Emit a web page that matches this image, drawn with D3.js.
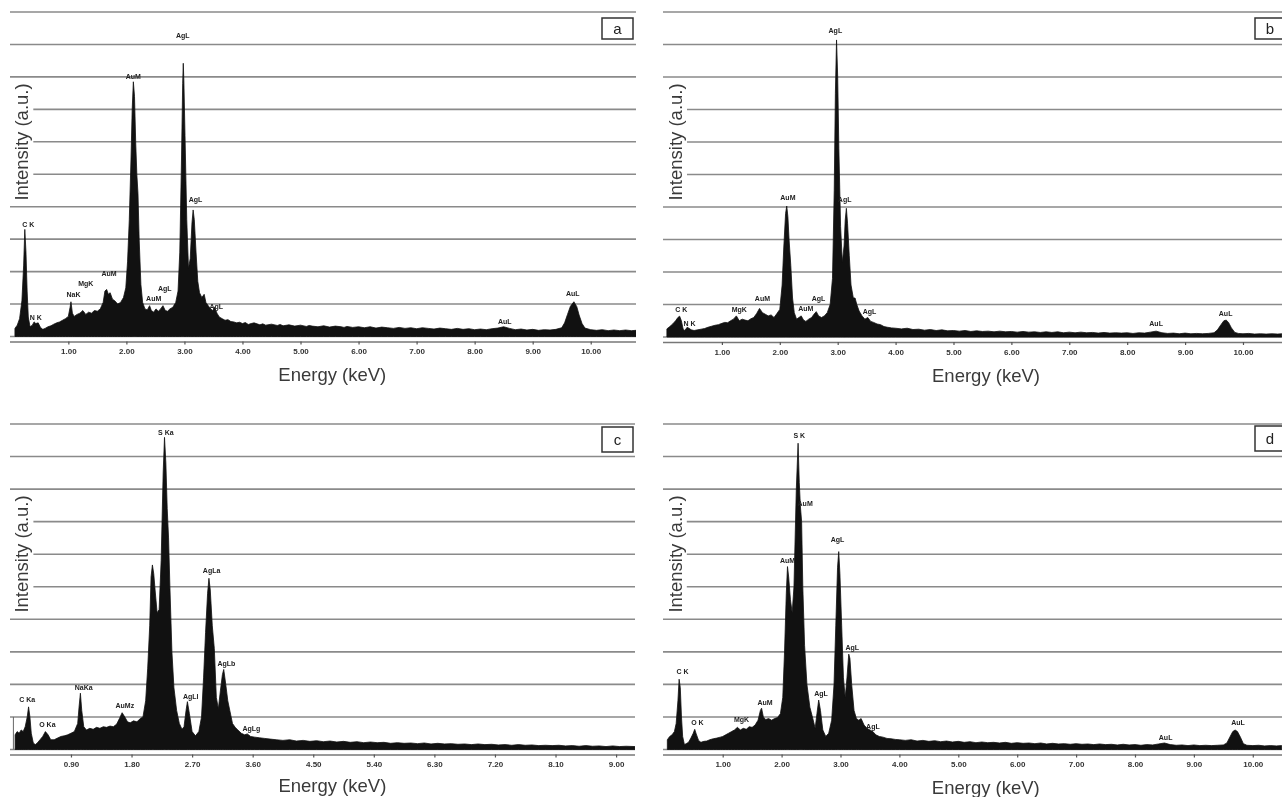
<!DOCTYPE html>
<html>
<head>
<meta charset="utf-8">
<script src="https://cdn.jsdelivr.net/npm/d3@7"></script>
<style>
  html, body { margin: 0; padding: 0; background: #fff; }
  svg { display: block; will-change: transform; }
</style>
</head>
<body>
<svg id="chart" width="1282" height="797"></svg>
<script>
// ---------------- DATA ----------------
// Spectra: [energy (keV), intensity (grid divisions, a.u.)]
const spectrumA = [
  [0.08,0.25],[0.12,0.35],[0.16,0.55],[0.20,1.1],[0.23,2.2],[0.25,3.3],[0.27,2.6],[0.29,1.4],[0.31,0.6],[0.34,0.3],
  [0.38,0.35],[0.41,0.45],[0.44,0.4],[0.48,0.42],[0.52,0.28],[0.56,0.22],[0.60,0.25],[0.65,0.3],[0.70,0.33],[0.75,0.38],
  [0.80,0.42],[0.85,0.45],[0.90,0.5],[0.95,0.55],[1.00,0.62],[1.03,0.9],[1.045,1.07],[1.07,0.72],[1.10,0.62],[1.15,0.68],
  [1.20,0.72],[1.25,0.8],[1.30,0.68],[1.35,0.75],[1.40,0.72],[1.45,0.8],[1.50,0.78],[1.55,0.85],[1.60,1.05],[1.63,1.4],
  [1.66,1.45],[1.69,1.3],[1.72,1.35],[1.76,1.15],[1.80,1.1],[1.85,1.0],[1.90,1.05],[1.95,1.2],[1.99,1.5],[2.02,2.3],
  [2.05,3.6],[2.08,5.5],[2.10,7.0],[2.12,7.85],[2.14,7.4],[2.16,6.0],[2.18,5.0],[2.20,4.4],[2.22,3.0],[2.25,1.6],
  [2.28,1.05],[2.32,0.85],[2.36,0.82],[2.40,0.95],[2.43,0.8],[2.47,0.75],[2.51,0.85],[2.55,0.78],[2.59,0.85],[2.63,0.95],
  [2.67,0.8],[2.71,0.78],[2.75,0.85],[2.80,0.9],[2.85,1.05],[2.89,1.4],[2.92,2.6],[2.95,5.5],[2.97,7.8],[2.98,8.42],
  [2.99,7.9],[3.01,6.2],[3.04,3.6],[3.07,2.1],[3.10,2.4],[3.13,3.5],[3.15,3.9],[3.17,3.6],[3.20,2.6],[3.23,1.7],
  [3.26,1.35],[3.30,1.2],[3.34,1.3],[3.37,1.05],[3.41,0.95],[3.45,0.85],[3.49,0.8],[3.52,0.9],[3.56,0.72],[3.60,0.6],
  [3.65,0.55],[3.70,0.5],[3.75,0.52],[3.80,0.46],[3.85,0.45],[3.90,0.42],[3.95,0.44],[4.00,0.4],[4.05,0.43],[4.10,0.37],
  [4.15,0.4],[4.20,0.42],[4.30,0.36],[4.35,0.39],[4.40,0.35],[4.50,0.38],[4.60,0.34],[4.65,0.37],[4.70,0.33],[4.80,0.36],
  [4.90,0.32],[5.00,0.35],[5.10,0.31],[5.15,0.34],[5.20,0.32],[5.30,0.3],[5.40,0.33],[5.50,0.29],[5.60,0.32],[5.70,0.3],
  [5.75,0.28],[5.80,0.31],[5.90,0.28],[6.00,0.3],[6.10,0.27],[6.20,0.3],[6.30,0.26],[6.40,0.29],[6.50,0.27],[6.60,0.25],
  [6.70,0.28],[6.80,0.25],[6.90,0.27],[7.00,0.24],[7.10,0.27],[7.20,0.25],[7.30,0.23],[7.40,0.26],[7.50,0.24],[7.60,0.22],
  [7.70,0.25],[7.80,0.22],[7.90,0.24],[8.00,0.21],[8.10,0.23],[8.20,0.21],[8.30,0.24],[8.40,0.26],[8.50,0.3],[8.60,0.25],
  [8.70,0.21],[8.80,0.23],[8.90,0.2],[9.00,0.22],[9.10,0.19],[9.20,0.21],[9.30,0.2],[9.40,0.22],[9.50,0.27],[9.55,0.42],
  [9.60,0.68],[9.65,0.93],[9.71,1.07],[9.76,0.92],[9.80,0.66],[9.85,0.4],[9.90,0.26],[10.00,0.21],[10.10,0.19],[10.20,0.21],
  [10.30,0.18],[10.40,0.2],[10.50,0.18],[10.60,0.2],[10.70,0.18],[10.78,0.19]
];
const spectrumB = [
  [0.05,0.25],[0.10,0.32],[0.15,0.4],[0.20,0.5],[0.24,0.6],[0.27,0.64],[0.30,0.5],[0.33,0.25],[0.36,0.2],[0.40,0.3],
  [0.43,0.27],[0.47,0.22],[0.52,0.2],[0.58,0.22],[0.64,0.24],[0.70,0.26],[0.76,0.3],[0.82,0.33],[0.88,0.36],[0.94,0.38],
  [1.00,0.42],[1.05,0.45],[1.10,0.44],[1.15,0.5],[1.20,0.55],[1.25,0.65],[1.30,0.5],[1.35,0.55],[1.40,0.52],[1.45,0.5],
  [1.50,0.56],[1.55,0.6],[1.60,0.72],[1.65,0.88],[1.70,0.75],[1.75,0.7],[1.80,0.65],[1.85,0.68],[1.90,0.6],[1.95,0.72],
  [2.00,0.85],[2.04,1.6],[2.07,2.8],[2.10,3.8],[2.12,4.03],[2.14,3.7],[2.16,3.0],[2.19,2.2],[2.22,1.2],[2.25,0.75],
  [2.29,0.55],[2.33,0.6],[2.37,0.65],[2.41,0.52],[2.45,0.48],[2.50,0.55],[2.55,0.6],[2.59,0.7],[2.63,0.78],[2.67,0.65],
  [2.72,0.6],[2.77,0.65],[2.82,0.75],[2.87,1.0],[2.91,1.8],[2.94,4.5],[2.96,7.5],[2.98,9.14],[3.00,8.0],[3.02,5.8],
  [3.05,3.4],[3.08,2.3],[3.11,2.8],[3.13,3.6],[3.15,3.96],[3.17,3.5],[3.20,2.5],[3.23,1.6],[3.27,1.2],[3.30,1.2],
  [3.33,1.0],[3.37,0.8],[3.42,0.65],[3.47,0.55],[3.52,0.6],[3.57,0.48],[3.62,0.45],[3.68,0.4],[3.74,0.38],[3.80,0.32],
  [3.86,0.3],[3.93,0.28],[4.00,0.27],[4.10,0.25],[4.20,0.27],[4.30,0.23],[4.40,0.24],[4.50,0.21],[4.60,0.23],[4.70,0.2],
  [4.80,0.22],[4.90,0.19],[5.00,0.2],[5.10,0.18],[5.20,0.2],[5.30,0.17],[5.40,0.19],[5.50,0.17],[5.60,0.18],[5.70,0.16],
  [5.80,0.18],[5.90,0.16],[6.00,0.17],[6.10,0.15],[6.20,0.17],[6.30,0.15],[6.40,0.16],[6.50,0.14],[6.60,0.16],[6.70,0.14],
  [6.80,0.16],[6.90,0.13],[7.00,0.15],[7.10,0.13],[7.20,0.15],[7.30,0.13],[7.40,0.14],[7.50,0.12],[7.60,0.14],[7.70,0.12],
  [7.80,0.13],[7.90,0.12],[8.00,0.13],[8.10,0.11],[8.20,0.13],[8.30,0.12],[8.40,0.15],[8.50,0.18],[8.60,0.13],[8.70,0.11],
  [8.80,0.12],[8.90,0.1],[9.00,0.12],[9.10,0.1],[9.20,0.11],[9.30,0.1],[9.40,0.11],[9.50,0.13],[9.56,0.22],[9.62,0.38],
  [9.67,0.5],[9.71,0.52],[9.75,0.45],[9.80,0.28],[9.86,0.14],[9.92,0.11],[10.00,0.1],[10.10,0.11],[10.20,0.09],[10.30,0.1],
  [10.40,0.09],[10.50,0.1],[10.60,0.09],[10.67,0.1]
];
const spectrumC = [
  [0.07,0.45],[0.10,0.55],[0.13,0.5],[0.16,0.6],[0.19,0.55],[0.22,0.7],[0.25,1.0],[0.27,1.31],[0.29,1.0],[0.31,0.5],
  [0.34,0.2],[0.37,0.15],[0.40,0.2],[0.44,0.3],[0.48,0.4],[0.52,0.55],[0.56,0.45],[0.60,0.3],[0.65,0.3],[0.70,0.35],
  [0.75,0.4],[0.80,0.42],[0.85,0.45],[0.90,0.5],[0.95,0.55],[1.00,0.8],[1.02,1.3],[1.04,1.73],[1.06,1.2],[1.09,0.7],
  [1.13,0.6],[1.18,0.65],[1.23,0.62],[1.28,0.68],[1.33,0.65],[1.38,0.7],[1.43,0.68],[1.48,0.72],[1.53,0.7],[1.58,0.78],
  [1.62,0.95],[1.66,1.13],[1.70,1.0],[1.74,0.85],[1.78,0.82],[1.83,0.88],[1.88,0.85],[1.93,0.95],[1.97,1.0],[2.01,1.5],
  [2.04,2.5],[2.07,3.8],[2.09,5.3],[2.11,5.67],[2.13,5.4],[2.15,4.9],[2.18,4.2],[2.21,4.3],[2.24,5.8],[2.27,8.5],
  [2.29,9.59],[2.31,8.8],[2.33,7.4],[2.35,6.5],[2.37,5.0],[2.40,3.0],[2.43,1.9],[2.47,1.2],[2.51,0.8],[2.55,0.62],
  [2.58,0.7],[2.61,1.2],[2.63,1.47],[2.66,1.1],[2.70,0.55],[2.75,0.42],[2.80,0.55],[2.84,1.0],[2.87,2.2],[2.90,3.6],
  [2.93,4.8],[2.95,5.26],[2.97,4.9],[3.00,3.8],[3.03,3.1],[3.06,1.6],[3.09,1.25],[3.12,1.8],[3.15,2.3],[3.17,2.46],
  [3.20,2.0],[3.23,1.5],[3.26,1.2],[3.30,0.8],[3.34,0.68],[3.38,0.6],[3.43,0.5],[3.48,0.45],[3.52,0.48],[3.57,0.4],
  [3.63,0.38],[3.70,0.36],[3.78,0.34],[3.86,0.32],[3.95,0.3],[4.05,0.28],[4.15,0.3],[4.25,0.26],[4.35,0.28],[4.45,0.25],
  [4.55,0.27],[4.65,0.24],[4.75,0.26],[4.85,0.23],[4.95,0.25],[5.05,0.22],[5.15,0.24],[5.25,0.21],[5.35,0.23],[5.45,0.21],
  [5.55,0.22],[5.65,0.19],[5.75,0.21],[5.85,0.19],[5.95,0.2],[6.05,0.18],[6.15,0.2],[6.25,0.17],[6.35,0.19],[6.45,0.17],
  [6.55,0.18],[6.65,0.16],[6.75,0.17],[6.85,0.15],[6.95,0.17],[7.05,0.15],[7.15,0.16],[7.25,0.14],[7.35,0.15],[7.45,0.13],
  [7.55,0.15],[7.65,0.13],[7.75,0.14],[7.85,0.12],[7.95,0.13],[8.05,0.12],[8.15,0.13],[8.25,0.11],[8.35,0.12],[8.45,0.1],
  [8.55,0.12],[8.65,0.1],[8.75,0.11],[8.85,0.09],[8.95,0.11],[9.05,0.09],[9.15,0.1],[9.28,0.09]
];
const spectrumD = [
  [0.06,0.3],[0.10,0.4],[0.14,0.45],[0.18,0.55],[0.21,0.8],[0.24,1.5],[0.26,2.16],[0.28,1.9],[0.30,1.0],[0.32,0.4],
  [0.35,0.15],[0.38,0.18],[0.42,0.22],[0.46,0.35],[0.50,0.5],[0.525,0.62],[0.55,0.48],[0.59,0.28],[0.63,0.22],[0.68,0.25],
  [0.73,0.26],[0.78,0.3],[0.84,0.33],[0.90,0.35],[0.96,0.38],[1.00,0.4],[1.05,0.45],[1.10,0.5],[1.15,0.55],[1.20,0.6],
  [1.25,0.68],[1.30,0.6],[1.35,0.65],[1.40,0.62],[1.45,0.7],[1.50,0.68],[1.55,0.75],[1.60,0.9],[1.64,1.2],[1.66,1.27],
  [1.69,1.0],[1.73,0.92],[1.78,0.95],[1.83,0.9],[1.88,0.95],[1.93,0.98],[1.98,1.1],[2.02,1.6],[2.05,3.0],[2.08,4.8],
  [2.10,5.62],[2.12,5.3],[2.15,4.6],[2.18,4.2],[2.21,5.0],[2.25,8.0],[2.28,9.41],[2.30,8.2],[2.32,7.45],[2.34,7.0],
  [2.36,5.0],[2.39,3.2],[2.43,2.0],[2.48,1.3],[2.53,0.95],[2.57,0.65],[2.60,1.1],[2.63,1.52],[2.66,1.2],[2.70,0.6],
  [2.75,0.4],[2.80,0.5],[2.85,0.9],[2.89,2.0],[2.92,3.8],[2.95,5.6],[2.97,6.08],[2.99,5.4],[3.02,3.8],[3.05,2.2],
  [3.08,1.6],[3.11,2.2],[3.14,2.93],[3.16,2.8],[3.19,2.0],[3.23,1.2],[3.27,0.95],[3.31,0.9],[3.35,0.95],[3.40,0.75],
  [3.45,0.65],[3.50,0.6],[3.55,0.55],[3.60,0.45],[3.66,0.4],[3.72,0.38],[3.79,0.34],[3.86,0.33],[3.93,0.31],[4.00,0.3],
  [4.10,0.28],[4.20,0.3],[4.30,0.26],[4.40,0.28],[4.50,0.25],[4.60,0.27],[4.70,0.24],[4.80,0.26],[4.90,0.23],[5.00,0.25],
  [5.10,0.22],[5.20,0.24],[5.30,0.21],[5.40,0.23],[5.50,0.21],[5.60,0.22],[5.70,0.2],[5.80,0.22],[5.90,0.19],[6.00,0.21],
  [6.10,0.19],[6.20,0.2],[6.30,0.18],[6.40,0.2],[6.50,0.17],[6.60,0.19],[6.70,0.17],[6.80,0.18],[6.90,0.16],[7.00,0.18],
  [7.10,0.16],[7.20,0.17],[7.30,0.15],[7.40,0.17],[7.50,0.15],[7.60,0.16],[7.70,0.14],[7.80,0.16],[7.90,0.14],[8.00,0.15],
  [8.10,0.13],[8.20,0.15],[8.30,0.14],[8.40,0.17],[8.50,0.2],[8.60,0.15],[8.70,0.13],[8.80,0.14],[8.90,0.12],[9.00,0.14],
  [9.10,0.12],[9.20,0.13],[9.30,0.12],[9.40,0.13],[9.50,0.14],[9.56,0.2],[9.61,0.38],[9.66,0.55],[9.70,0.6],[9.74,0.55],
  [9.79,0.38],[9.84,0.18],[9.90,0.13],[10.00,0.12],[10.10,0.13],[10.20,0.11],[10.30,0.12],[10.40,0.11],[10.49,0.12]
];

// Peak annotations: [text, energy (keV), intensity (divisions)]
const labelsA = [
  ["C K",0.31,3.46],["N K",0.44,0.57],["NaK",1.09,1.28],["MgK",1.30,1.62],["AuM",1.70,1.95],
  ["AuM",2.12,8.02],["AuM",2.47,1.18],["AgL",2.66,1.49],["AgL",2.97,9.26],["AgL",3.19,4.22],
  ["AgL",3.55,0.92],["AuL",8.52,0.46],["AuL",9.69,1.33]
];
const labelsB = [
  ["C K",0.30,0.83],["N K",0.44,0.42],["MgK",1.30,0.83],["AuM",1.70,1.19],["AuM",2.14,4.28],
  ["AuM",2.45,0.88],["AgL",2.67,1.19],["AgL",2.96,9.42],["AgL",3.12,4.23],["AgL",3.55,0.78],
  ["AuL",8.50,0.40],["AuL",9.70,0.73]
];
const labelsC = [
  ["C Ka",0.25,1.52],["O Ka",0.55,0.77],["NaKa",1.09,1.91],["AuMz",1.70,1.34],["S Ka",2.31,9.75],
  ["AgLl",2.68,1.64],["AgLa",2.99,5.49],["AgLb",3.21,2.65],["AgLg",3.58,0.65]
];
const labelsD = [
  ["C K",0.32,2.39],["O K",0.57,0.82],["MgK",1.32,0.91],["AuM",1.72,1.44],["AuM",2.10,5.82],
  ["S K",2.30,9.66],["AuM",2.40,7.56],["AgL",2.67,1.73],["AgL",2.95,6.46],["AgL",3.20,3.14],
  ["AgL",3.55,0.72],["AuL",8.52,0.37],["AuL",9.75,0.82]
];

// Axis ticks
const ticksKeV = [1,2,3,4,5,6,7,8,9,10];
const tickLabelsKeV = ["1.00","2.00","3.00","4.00","5.00","6.00","7.00","8.00","9.00","10.00"];
const ticksC = [0.9,1.8,2.7,3.6,4.5,5.4,6.3,7.2,8.1,9.0];
const tickLabelsC = ["0.90","1.80","2.70","3.60","4.50","5.40","6.30","7.20","8.10","9.00"];
const gridDivisions = [0,1,2,3,4,5,6,7,8,9,10];
const panelLetters = ["a","b","c","d"];
const xTitle = "Energy (keV)";
const yTitle = "Intensity (a.u.)";

// ---------------- LAYOUT ----------------
const layouts = [
  {spec:spectrumA, labels:labelsA, ticks:ticksKeV, tickLabels:tickLabelsKeV, letter:panelLetters[0],
   x0:10.3, xR:636, eMax:10.78, y0:336.5, top:12, gridL:10, gridR:636,
   box:[602,18,31,21], xTitleY:375, yTitleCx:22},
  {spec:spectrumB, labels:labelsB, ticks:ticksKeV, tickLabels:tickLabelsKeV, letter:panelLetters[1],
   x0:664, xR:1282, eMax:10.674, y0:337, top:12, gridL:663, gridR:1282,
   box:[1255,18,30,21], xTitleY:376, yTitleCx:676},
  {spec:spectrumC, labels:labelsC, ticks:ticksC, tickLabels:tickLabelsC, letter:panelLetters[2],
   x0:10.4, xR:635, eMax:9.281, y0:749.5, top:424, gridL:10, gridR:635,
   box:[602,427,31,25], xTitleY:786, yTitleCx:22, marker:true},
  {spec:spectrumD, labels:labelsD, ticks:ticksKeV, tickLabels:tickLabelsKeV, letter:panelLetters[3],
   x0:663.8, xR:1282, eMax:10.496, y0:749.5, top:424, gridL:663, gridR:1282,
   box:[1255,426,30,25], xTitleY:788, yTitleCx:676}
];

const svg = d3.select("#chart");
svg.append("rect").attr("width",1282).attr("height",797).attr("fill","#fff");

layouts.forEach((L, i) => {
  const g = svg.append("g");
  const x = d3.scaleLinear().domain([0, L.eMax]).range([L.x0, L.xR]);
  const y = d3.scaleLinear().domain([0, 10]).range([L.y0, L.top]);

  // gridlines
  g.append("g").selectAll("line").data(gridDivisions).join("line")
    .attr("x1", L.gridL).attr("x2", L.gridR)
    .attr("y1", d => y(d)).attr("y2", d => y(d))
    .attr("stroke", "#8a8a8a").attr("stroke-width", 1.6);

  // y title with white knock-out behind it
  const cy = L.top + 130;
  g.append("rect").attr("x", L.gridL).attr("y", cy - 60)
    .attr("width", L.x0 + 23 - L.gridL).attr("height", 120).attr("fill", "#fff");
  g.append("text")
    .attr("transform", `translate(${L.yTitleCx},${cy}) rotate(-90)`)
    .attr("text-anchor", "middle").attr("dy", "0.35em")
    .attr("font-family", "Liberation Sans, Arial, sans-serif")
    .attr("font-size", 18.5).attr("fill", "#3a3a3a")
    .text(yTitle);

  // spectrum (clipped to plotting area)
  const clipId = "clip" + i;
  svg.append("clipPath").attr("id", clipId).append("rect")
    .attr("x", L.x0).attr("y", L.top).attr("width", L.xR - L.x0).attr("height", L.y0 - L.top + 1);
  const area = d3.area().x(d => x(d[0])).y0(y(0)).y1(d => y(d[1])).curve(d3.curveLinear);
  g.append("path").datum(L.spec).attr("d", area)
    .attr("clip-path", `url(#${clipId})`)
    .attr("fill", "#111").attr("stroke", "#111").attr("stroke-width", 0.8).attr("stroke-linejoin", "round");

  if (L.marker) {
    g.append("line").attr("x1", L.x0 + 3).attr("x2", L.x0 + 3)
      .attr("y1", y(1)).attr("y2", y(0)).attr("stroke", "#666").attr("stroke-width", 1);
  }

  // x axis (offset below baseline)
  const axisY = L.y0 + 5;
  const axis = d3.axisBottom(x).tickValues(L.ticks)
    .tickFormat((d, k) => L.tickLabels[k]).tickSize(3).tickPadding(4).tickSizeOuter(0);
  const ax = g.append("g").attr("transform", `translate(0,${axisY})`).call(axis);
  ax.select(".domain").attr("stroke", "#777").attr("stroke-width", 1.5)
    .attr("d", `M${L.gridL},0.5H${L.gridR}`);
  ax.selectAll(".tick line").attr("stroke", "#555").attr("stroke-width", 1.2);
  ax.selectAll(".tick text")
    .attr("font-family", "Liberation Sans, Arial, sans-serif")
    .attr("font-size", 8).attr("font-weight", "bold").attr("fill", "#333");

  // x title
  g.append("text").attr("x", L.x0 + 322).attr("y", L.xTitleY).attr("dy", "0.35em")
    .attr("text-anchor", "middle")
    .attr("font-family", "Liberation Sans, Arial, sans-serif")
    .attr("font-size", 18.5).attr("fill", "#3a3a3a")
    .text(xTitle);

  // peak labels
  g.append("g").selectAll("text").data(L.labels).join("text")
    .attr("x", d => x(d[1])).attr("y", d => y(d[2])).attr("dy", "0.35em")
    .attr("text-anchor", "middle")
    .attr("font-family", "Liberation Sans, Arial, sans-serif")
    .attr("font-size", 7).attr("font-weight", "bold").attr("fill", "#222")
    .text(d => d[0]);

  // panel letter box
  const [bx, by, bw, bh] = L.box;
  g.append("rect").attr("x", bx).attr("y", by).attr("width", bw).attr("height", bh)
    .attr("fill", "#fff").attr("stroke", "#333").attr("stroke-width", 1.5);
  g.append("text").attr("x", bx + bw / 2).attr("y", by + bh / 2).attr("dy", "0.35em")
    .attr("text-anchor", "middle")
    .attr("font-family", "Liberation Sans, Arial, sans-serif")
    .attr("font-size", 15).attr("fill", "#222")
    .text(L.letter);
});
</script>
</body>
</html>
